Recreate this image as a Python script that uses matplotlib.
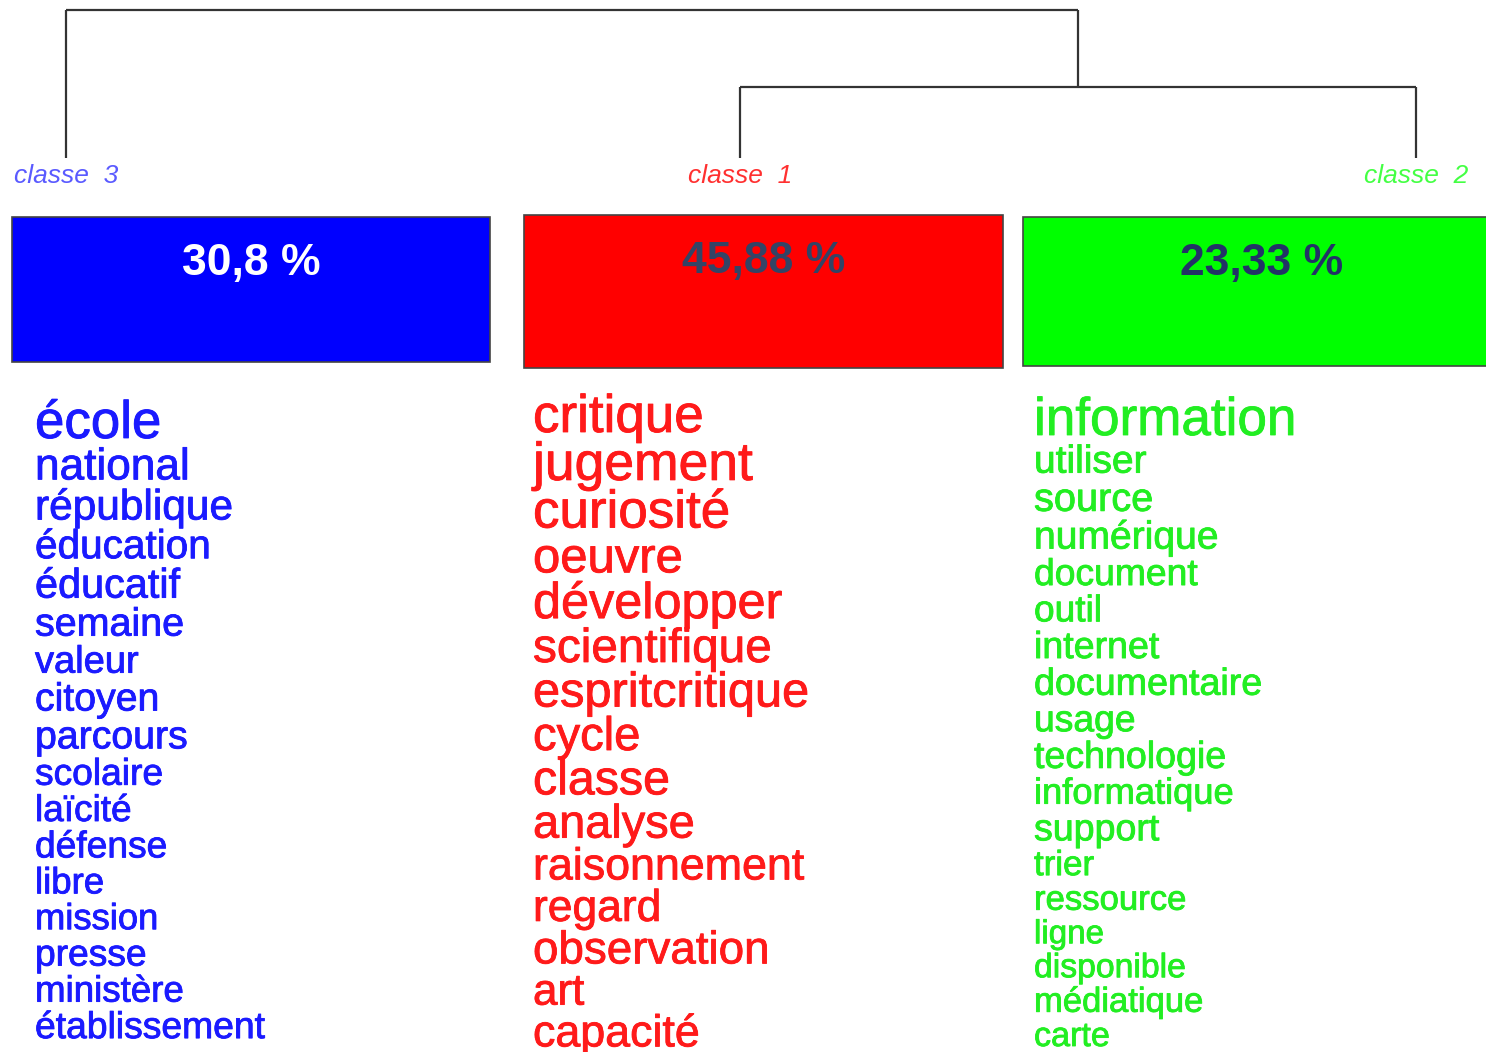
import matplotlib.pyplot as plt
import matplotlib.patheffects as pe

# classes du dendrogramme (ordre des feuilles, de gauche à droite)
classes = ["classe 3", "classe 1", "classe 2"]
pourcentages = ["30,8 %", "45,88 %", "23,33 %"]
# hauteurs de fusion : (classe 1 + classe 2) puis (classe 3 + reste)
fusion_basse = 0.48
fusion_haute = 1.0

mots_c3 = ["école", "national", "république", "éducation", "éducatif", "semaine",
           "valeur", "citoyen", "parcours", "scolaire", "laïcité", "défense",
           "libre", "mission", "presse", "ministère", "établissement"]
poids_c3 = [53.6, 44.8, 43.0, 41.1, 42.0, 40.0, 38.6, 39.8, 39.8, 37.7, 37.5,
            37.7, 37.1, 36.9, 37.7, 37.2, 37.8]

mots_c1 = ["critique", "jugement", "curiosité", "oeuvre", "développer",
           "scientifique", "espritcritique", "cycle", "classe", "analyse",
           "raisonnement", "regard", "observation", "art", "capacité"]
poids_c1 = [53.7, 54.2, 53.7, 49.7, 51.1, 48.4, 49.4, 47.8, 49.0, 47.6, 45.4,
            45.0, 46.4, 44.6, 45.4]

mots_c2 = ["information", "utiliser", "source", "numérique", "document", "outil",
           "internet", "documentaire", "usage", "technologie", "informatique",
           "support", "trier", "ressource", "ligne", "disponible", "médiatique",
           "carte"]
poids_c2 = [53.8, 39.5, 40.3, 39.6, 37.8, 37.6, 38.1, 38.2, 37.8, 38.1, 36.8,
            38.1, 35.4, 35.2, 33.6, 34.2, 35.1, 34.6]

# mise en page (pixels)
W, H = 1486, 1052
feuilles_x = [66, 740, 1416]
y_feuille, y_sommet = 158, 10
couleurs_fond = ["#0000ff", "#ff0000", "#00ff00"]
couleurs_label = ["#5a5aff", "#ff3030", "#44ff44"]
couleurs_pct = ["white", "#334466", "#223366"]
boites = [(12, 217, 478, 145), (524, 215, 479, 153), (1023, 217, 478, 149)]
mots_x = [35, 533, 1034]
mots_y0 = [438, 432, 435]
couleurs_mots = ["#1a1aff", "#ff1a1a", "#22ee22"]

plt.rcParams['font.family'] = ['Liberation Sans', 'DejaVu Sans']

fig = plt.figure(figsize=(W / 100, H / 100), dpi=100)
ax = fig.add_axes([0, 0, 1, 1])
ax.set_xlim(0, W)
ax.set_ylim(H, 0)
ax.axis('off')


def hauteur_y(h):
    return y_feuille - h * (y_feuille - y_sommet)


# dendrogramme
lc = dict(color="#333333", lw=1.6, solid_capstyle='butt')
yb = hauteur_y(fusion_basse)
yh = hauteur_y(fusion_haute)
ax.plot([feuilles_x[1], feuilles_x[1]], [y_feuille, yb], **lc)
ax.plot([feuilles_x[2], feuilles_x[2]], [y_feuille, yb], **lc)
ax.plot([feuilles_x[1], feuilles_x[2]], [yb, yb], **lc)
x_milieu = (feuilles_x[1] + feuilles_x[2]) / 2
ax.plot([x_milieu, x_milieu], [yb, yh], **lc)
ax.plot([feuilles_x[0], feuilles_x[0]], [y_feuille, yh], **lc)
ax.plot([feuilles_x[0], x_milieu], [yh, yh], **lc)

for i, nom in enumerate(classes):
    ax.text(feuilles_x[i], 176, nom.replace(" ", "  "), color=couleurs_label[i],
            fontsize=19, style='italic', ha='center', va='center')

    x, y, w, h = boites[i]
    ax.add_patch(plt.Rectangle((x, y), w, h, facecolor=couleurs_fond[i],
                               edgecolor="#444444", lw=1.2))
    ax.text(x + w / 2, y + 46, pourcentages[i], color=couleurs_pct[i],
            fontsize=32, fontweight='bold', ha='center', va='center')

# listes de mots
for i, (mots, poids) in enumerate([(mots_c3, poids_c3), (mots_c1, poids_c1),
                                   (mots_c2, poids_c2)]):
    y = mots_y0[i]
    for j, (mot, p) in enumerate(zip(mots, poids)):
        if j > 0:
            y += 0.70 * p + 10
        t = ax.text(mots_x[i], y, mot, color=couleurs_mots[i], fontsize=p * 0.71,
                    ha='left', va='baseline')
        t.set_path_effects([pe.withStroke(linewidth=0.6, foreground=couleurs_mots[i])])

fig.savefig("out.png", dpi=100)
